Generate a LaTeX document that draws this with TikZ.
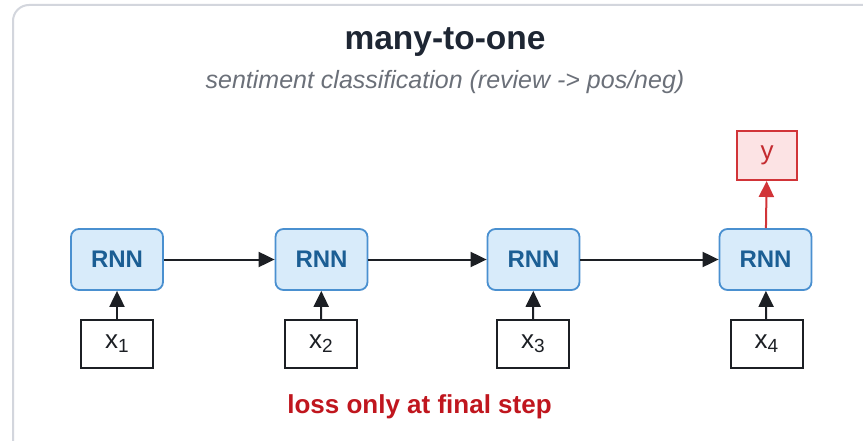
\documentclass[tikz,border=0pt]{standalone}
\usepackage{fontspec}
\setmainfont{Liberation Sans}
\usetikzlibrary{arrows.meta}
\definecolor{framegray}{HTML}{D3D6DD}
\definecolor{titleink}{HTML}{1E2633}
\definecolor{subink}{HTML}{6B7079}
\definecolor{rnnfill}{HTML}{D8EBFA}
\definecolor{rnnline}{HTML}{4A90D0}
\definecolor{rnnink}{HTML}{1B5E94}
\definecolor{outline}{HTML}{D13438}
\definecolor{outfill}{HTML}{FCE3E4}
\definecolor{outink}{HTML}{C42B30}
\definecolor{lossink}{HTML}{C0161E}
\definecolor{wire}{HTML}{1C1F24}
\newcommand{\sub}[1]{\raisebox{-0.16em}{\fontsize{19}{19}\selectfont #1}}
\tikzset{
  rnnbox/.style={draw=rnnline, fill=rnnfill, line width=1.8pt, rounded corners=8pt,
    minimum width=92pt, minimum height=61pt, inner sep=0pt,
    font=\fontsize{24}{24}\selectfont\bfseries, text=rnnink},
  inbox/.style={draw=wire, fill=white, line width=2pt,
    minimum width=72pt, minimum height=48pt, inner sep=0pt,
    font=\fontsize{26}{26}\selectfont, text=wire},
  outbox/.style={draw=outline, fill=outfill, line width=2pt,
    minimum width=60pt, minimum height=49pt, inner sep=0pt,
    font=\fontsize{26}{26}\selectfont, text=outink},
  link/.style={draw=wire, line width=2pt, -{Triangle[length=16pt,width=15pt]}},
  redlink/.style={draw=outline, line width=2pt, -{Triangle[length=16pt,width=15pt]}}
}
\begin{document}
\begin{tikzpicture}[x=1pt, y=-1pt]
\useasboundingbox (0,0) rectangle (863,441);
\fill[white] (0,0) rectangle (863,441);
% outer panel
\draw[framegray, line width=2pt, rounded corners=16pt, fill=white] (13,5) rectangle (900,470);

% headings
\node[font=\fontsize{33.5}{34}\selectfont\bfseries, text=titleink] (title) at (445,42) {many-to-one};
\node[font=\fontsize{25}{26}\selectfont\itshape, text=subink] (subtitle) at (445,82) {sentiment classification (review -> pos/neg)};

% recurrent cells
\node[rnnbox] (r1) at (117,259.5) {RNN};
\node[rnnbox] (r2) at (321.5,259.5) {RNN};
\node[rnnbox] (r3) at (533.5,259.5) {RNN};
\node[rnnbox] (r4) at (765.5,259.5) {RNN};

% inputs
\node[inbox] (x1) at (117,344) {x\sub{1}};
\node[inbox] (x2) at (321,344) {x\sub{2}};
\node[inbox] (x3) at (533,344) {x\sub{3}};
\node[inbox] (x4) at (766.5,344) {x\sub{4}};

% single output
\node[outbox] (y) at (767,155.5) {y};

% hidden state flow
\draw[link] (r1) -- (r2);
\draw[link] (r2) -- (r3);
\draw[link] (r3) -- (r4);

% input connections
\draw[link] (x1) -- (r1);
\draw[link] (x2) -- (r2);
\draw[link] (x3) -- (r3);
\draw[link] (x4) -- (r4);

% output connection
\draw[redlink] (r4) -- (y);

% caption
\node[font=\fontsize{26}{27}\selectfont\bfseries, text=lossink] (loss) at (419.5,407) {loss only at final step};
\end{tikzpicture}
\end{document}
